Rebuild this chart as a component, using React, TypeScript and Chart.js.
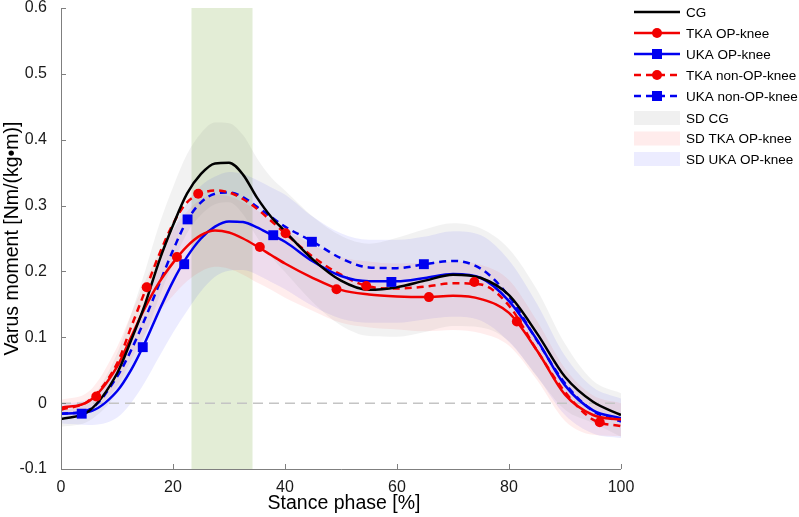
import React, { useEffect, useRef } from 'react';
import { Chart, registerables } from 'chart.js';

Chart.register(...registerables);

// ---- data ----
const X = [0, 5, 10, 12.5, 15, 17.5, 20, 22.5, 25, 27.5, 30, 32.5, 35, 37.5, 40, 45, 50, 55, 60, 65, 70, 75, 80, 85, 90, 95, 100];

const CG = [-0.024, -0.012, 0.045, 0.095, 0.15, 0.215, 0.27, 0.318, 0.348, 0.364, 0.365, 0.347, 0.312, 0.283, 0.261, 0.218, 0.186, 0.172, 0.176, 0.186, 0.195, 0.19, 0.164, 0.106, 0.04, 0.002, -0.018];
const TKA_OP = [-0.007, 0.003, 0.055, 0.1, 0.145, 0.183, 0.213, 0.238, 0.255, 0.262, 0.259, 0.25, 0.238, 0.225, 0.212, 0.19, 0.172, 0.165, 0.162, 0.161, 0.163, 0.158, 0.137, 0.08, 0.013, -0.018, -0.025];
const UKA_OP = [-0.016, -0.013, 0.018, 0.05, 0.092, 0.14, 0.185, 0.222, 0.25, 0.268, 0.276, 0.275, 0.267, 0.256, 0.245, 0.215, 0.193, 0.185, 0.185, 0.19, 0.196, 0.19, 0.155, 0.096, 0.027, -0.011, -0.023];
const TKA_NON = [-0.01, 0.004, 0.06, 0.115, 0.17, 0.225, 0.272, 0.305, 0.318, 0.323, 0.32, 0.31, 0.295, 0.277, 0.258, 0.222, 0.195, 0.177, 0.174, 0.177, 0.182, 0.18, 0.148, 0.08, 0.017, -0.025, -0.035];
const UKA_NON = [-0.016, -0.01, 0.04, 0.08, 0.128, 0.18, 0.232, 0.277, 0.305, 0.318, 0.32, 0.313, 0.298, 0.283, 0.268, 0.245, 0.22, 0.206, 0.205, 0.211, 0.216, 0.204, 0.162, 0.095, 0.03, -0.012, -0.028];

const SD_CG = [0.012, 0.015, 0.03, 0.04, 0.05, 0.055, 0.058, 0.06, 0.062, 0.062, 0.06, 0.06, 0.06, 0.06, 0.062, 0.065, 0.068, 0.07, 0.075, 0.078, 0.078, 0.075, 0.07, 0.066, 0.05, 0.032, 0.033];
const SD_TKA = [0.012, 0.015, 0.03, 0.035, 0.04, 0.045, 0.05, 0.053, 0.055, 0.055, 0.055, 0.055, 0.055, 0.053, 0.052, 0.05, 0.05, 0.05, 0.05, 0.052, 0.052, 0.052, 0.05, 0.045, 0.04, 0.03, 0.025];
const SD_UKA = [0.015, 0.02, 0.04, 0.05, 0.06, 0.07, 0.078, 0.082, 0.08, 0.076, 0.075, 0.073, 0.072, 0.072, 0.072, 0.068, 0.065, 0.063, 0.063, 0.063, 0.065, 0.065, 0.062, 0.055, 0.045, 0.035, 0.03];

const TKA_OP_MX = [6.3, 20.7, 35.5, 49.2, 65.7, 81.4];
const TKA_OP_MY = [0.01, 0.222, 0.237, 0.173, 0.161, 0.124];
const TKA_NON_MX = [15.3, 24.5, 40.1, 54.5, 73.8, 96.2];
const TKA_NON_MY = [0.176, 0.318, 0.258, 0.178, 0.184, -0.029];
const UKA_OP_MX = [3.7, 14.6, 22, 37.9, 59];
const UKA_OP_MY = [-0.016, 0.085, 0.211, 0.255, 0.184];
const UKA_NON_MX = [22.6, 44.8, 64.8];
const UKA_NON_MY = [0.279, 0.245, 0.211];

const GAIT_BAND = [23.3, 34.2];
const Y_TICKS = [-0.1, 0, 0.1, 0.2, 0.3, 0.4, 0.5, 0.6];
const X_TICKS = [0, 20, 40, 60, 80, 100];

const LEGEND_LINES = ['CG', 'TKA OP-knee', 'UKA OP-knee', 'TKA non-OP-knee', 'UKA non-OP-knee'];
const LEGEND_SD = ['SD CG', 'SD TKA OP-knee', 'SD UKA OP-knee'];

const RED = '#f20000';
const BLUE = '#0000f0';
const BLACK = '#000000';
const FONT = '"Liberation Sans", Arial, sans-serif';

const BAND_CG = 'rgba(128,128,128,0.10)';
const BAND_TKA = 'rgba(255,0,0,0.07)';
const BAND_UKA = 'rgba(0,0,255,0.075)';

const pts = (xs: number[], ys: number[]) => xs.map((x, i) => ({ x, y: ys[i] }));

const lineStyles = [
  { color: BLACK, dash: [] as number[], marker: null as string | null },
  { color: RED, dash: [], marker: 'circle' },
  { color: BLUE, dash: [], marker: 'rect' },
  { color: RED, dash: [7, 5], marker: 'circle' },
  { color: BLUE, dash: [7, 5], marker: 'rect' },
];
const sdColors = ['rgba(240,240,240,1)', 'rgba(255,236,236,1)', 'rgba(236,236,255,1)'];

function drawMarker(ctx: CanvasRenderingContext2D, type: string, x: number, y: number, color: string) {
  ctx.fillStyle = color;
  ctx.beginPath();
  if (type === 'circle') {
    ctx.arc(x, y, 5, 0, Math.PI * 2);
  } else {
    ctx.rect(x - 5, y - 5, 10, 10);
  }
  ctx.fill();
}

const decor = {
  id: 'decor',
  beforeDatasetsDraw(chart: any) {
    const { ctx, chartArea, scales } = chart;
    const x0 = scales.x.getPixelForValue(GAIT_BAND[0]);
    const x1 = scales.x.getPixelForValue(GAIT_BAND[1]);
    ctx.save();
    ctx.fillStyle = '#e3edd6';
    ctx.fillRect(x0, chartArea.top, x1 - x0, chartArea.bottom - chartArea.top);
    ctx.restore();
  },
  afterDatasetsDraw(chart: any) {
    const { ctx, chartArea, scales } = chart;
    const { left, right, top, bottom } = chartArea;
    ctx.save();
    ctx.strokeStyle = '#7f7f7f';
    ctx.lineWidth = 1;
    ctx.beginPath();
    ctx.moveTo(left + 0.5, top);
    ctx.lineTo(left + 0.5, bottom + 0.5);
    ctx.lineTo(right, bottom + 0.5);
    Y_TICKS.forEach((v) => {
      const y = Math.round(scales.y.getPixelForValue(v)) + 0.5;
      ctx.moveTo(left, y);
      ctx.lineTo(left + 5, y);
    });
    X_TICKS.forEach((v) => {
      const x = Math.round(scales.x.getPixelForValue(v)) + 0.5;
      ctx.moveTo(x, bottom);
      ctx.lineTo(x, bottom - 5);
    });
    ctx.stroke();
    ctx.restore();
  },
  afterDraw(chart: any) {
    const { ctx, chartArea } = chart;
    ctx.save();
    // axis titles
    ctx.fillStyle = '#000';
    ctx.font = `19.5px ${FONT}`;
    ctx.textAlign = 'center';
    ctx.textBaseline = 'middle';
    ctx.fillText('Stance phase [%]', (chartArea.left + chartArea.right) / 2 + 3, 504);
    ctx.save();
    ctx.translate(13, (chartArea.top + chartArea.bottom) / 2);
    ctx.rotate(-Math.PI / 2);
    ctx.fillText('Varus moment [Nm/(kg\u2022m)]', 0, 0);
    ctx.restore();

    // legend
    const lx0 = 634, lx1 = 680, tx = 686;
    const rowsY = [12, 33, 54, 75, 96];
    ctx.font = `13.5px ${FONT}`;
    ctx.textAlign = 'left';
    LEGEND_LINES.forEach((label, i) => {
      const st = lineStyles[i];
      const y = rowsY[i];
      ctx.strokeStyle = st.color;
      ctx.lineWidth = 2.5;
      ctx.setLineDash(st.dash);
      ctx.beginPath();
      ctx.moveTo(lx0, y);
      ctx.lineTo(lx1, y);
      ctx.stroke();
      ctx.setLineDash([]);
      if (st.marker) drawMarker(ctx, st.marker, (lx0 + lx1) / 2, y, st.color);
      ctx.fillStyle = '#000';
      ctx.fillText(label, tx, y + 1);
    });
    const sdY = [118, 138.5, 159];
    LEGEND_SD.forEach((label, i) => {
      const y = sdY[i];
      ctx.fillStyle = sdColors[i];
      ctx.fillRect(lx0, y - 7, lx1 - lx0, 14);
      ctx.fillStyle = '#000';
      ctx.fillText(label, tx, y + 1);
    });
    ctx.restore();
  },
};

export default function App() {
  const ref = useRef<HTMLCanvasElement | null>(null);
  useEffect(() => {
    if (!ref.current) return;
    const band = (mean: number[], sd: number[], color: string) => [
      {
        type: 'line',
        data: X.map((x, i) => ({ x, y: mean[i] + sd[i] })),
        borderWidth: 0,
        borderColor: 'rgba(0,0,0,0)',
        pointRadius: 0,
        fill: '+1',
        backgroundColor: color,
        cubicInterpolationMode: 'monotone',
        order: 20,
      },
      {
        type: 'line',
        data: X.map((x, i) => ({ x, y: mean[i] - sd[i] })),
        borderWidth: 0,
        borderColor: 'rgba(0,0,0,0)',
        pointRadius: 0,
        fill: false,
        cubicInterpolationMode: 'monotone',
        order: 20,
      },
    ];
    const line = (ys: number[], color: string, dash: number[], order: number) => ({
      type: 'line',
      data: pts(X, ys),
      borderColor: color,
      borderWidth: 2.5,
      borderDash: dash,
      pointRadius: 0,
      fill: false,
      cubicInterpolationMode: 'monotone',
      order,
    });
    const markers = (xs: number[], ys: number[], color: string, style: string) => ({
      type: 'scatter',
      data: pts(xs, ys),
      showLine: false,
      pointStyle: style,
      pointRadius: style === 'rect' ? 7 : 5,
      backgroundColor: color,
      borderColor: color,
      borderWidth: 0,
      order: 0,
    });
    const chart = new Chart(ref.current, {
      type: 'line',
      data: {
        datasets: [
          ...band(CG, SD_CG, BAND_CG),
          ...band(TKA_OP, SD_TKA, BAND_TKA),
          ...band(UKA_OP, SD_UKA, BAND_UKA),
          {
            type: 'line',
            data: [{ x: 0, y: 0 }, { x: 100, y: 0 }],
            borderColor: '#c4c4c4',
            borderWidth: 1.5,
            borderDash: [10, 6],
            pointRadius: 0,
            fill: false,
            order: 15,
          },
          line(UKA_NON, BLUE, [7, 5], 5),
          line(TKA_NON, RED, [7, 5], 4),
          line(UKA_OP, BLUE, [], 3),
          line(TKA_OP, RED, [], 2),
          line(CG, BLACK, [], 1),
          markers(TKA_OP_MX, TKA_OP_MY, RED, 'circle'),
          markers(TKA_NON_MX, TKA_NON_MY, RED, 'circle'),
          markers(UKA_OP_MX, UKA_OP_MY, BLUE, 'rect'),
          markers(UKA_NON_MX, UKA_NON_MY, BLUE, 'rect'),
        ] as any,
      },
      options: {
        animation: false,
        responsive: false,
        devicePixelRatio: 1,
        layout: { padding: { left: 0, top: 8, right: 178, bottom: 0 } },
        plugins: { legend: { display: false }, tooltip: { enabled: false } },
        scales: {
          x: {
            type: 'linear',
            min: 0,
            max: 100,
            afterFit: (s: any) => { s.height = 48; s.paddingLeft = 0; s.paddingRight = 0; },
            afterBuildTicks: (s: any) => { s.ticks = X_TICKS.map((v) => ({ value: v })); },
            grid: { display: false, drawTicks: false },
            border: { display: false },
            ticks: { font: { family: FONT, size: 16 }, color: '#1a1a1a', padding: 9, maxRotation: 0 },
          },
          y: {
            type: 'linear',
            min: -0.1,
            max: 0.6,
            afterFit: (s: any) => { s.width = 61; s.paddingTop = 0; s.paddingBottom = 0; },
            afterBuildTicks: (s: any) => { s.ticks = Y_TICKS.map((v) => ({ value: v })); },
            grid: { display: false, drawTicks: false },
            border: { display: false },
            ticks: {
              font: { family: FONT, size: 16 },
              color: '#1a1a1a',
              padding: 14,
              callback: (v: any) => String(Number(Number(v).toFixed(1))),
            },
          },
        },
      } as any,
      plugins: [decor],
    });
    return () => chart.destroy();
  }, []);
  return (
    <div style={{ position: 'fixed', left: 0, top: 0, width: 799, height: 517, background: '#fff' }}>
      <canvas ref={ref} width={799} height={517} style={{ display: 'block' }} />
    </div>
  );
}
